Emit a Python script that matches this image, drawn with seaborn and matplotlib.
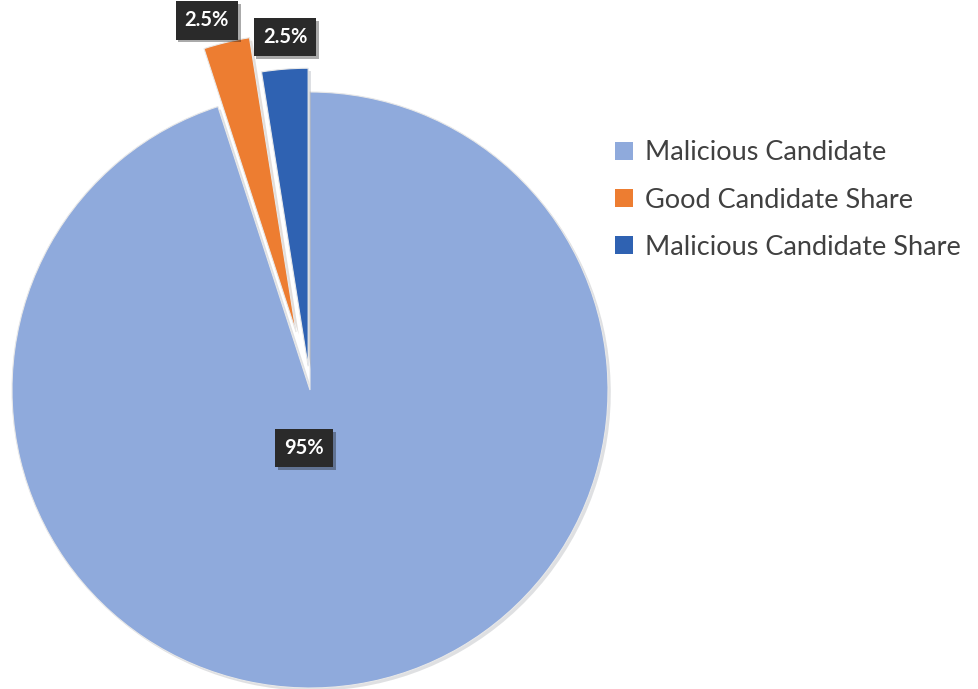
import matplotlib
matplotlib.use("Agg")
import matplotlib.pyplot as plt
import matplotlib.patheffects as pe
import seaborn as sns

# data
labels = ["Malicious Candidate", "Good Candidate Share", "Malicious Candidate Share"]
shares = [95, 2.5, 2.5]
pct_text = ["95%", "2.5%", "2.5%"]
colors = ["#8FAADC", "#ED7D31", "#2F62B2"]
explode = [0, 0.2, 0.08]

sns.set_theme(style="white")
plt.rcParams["font.family"] = ["Lato", "DejaVu Sans"]

fig = plt.figure(figsize=(9.79, 6.89), dpi=100)
ax = fig.add_axes([12 / 979, 1 / 689, 596 / 979, 596 / 689])

wedges, _ = ax.pie(shares, colors=colors, explode=explode, startangle=90,
                   counterclock=False,
                   wedgeprops=dict(edgecolor="#e8e8e8", linewidth=0.8))
for w in wedges:
    w.set_clip_on(False)
    w.set_path_effects([pe.SimplePatchShadow(offset=(2, -2), alpha=0.15), pe.Normal()])
ax.set_xlim(-1, 1)
ax.set_ylim(-1, 1)
ax.axis("off")

# data labels (dark boxes)
label_pos = [(-0.02, -0.195), (-0.346, 1.24), (-0.084, 1.185)]
for txt, (x, y) in zip(pct_text, label_pos):
    t = ax.text(x, y, txt, ha="center", va="center", color="white",
                fontsize=14.5, fontweight="bold", clip_on=False,
                bbox=dict(boxstyle="square,pad=0.45", fc="#2a2a2a", ec="none"))
    t.get_bbox_patch().set_path_effects(
        [pe.SimplePatchShadow(offset=(2, -2), alpha=0.35), pe.Normal()])

handles = [plt.Rectangle((0, 0), 1, 1, fc=c, ec="none") for c in colors]
leg = fig.legend(handles, labels, loc="upper left", bbox_to_anchor=(591 / 979, 1 - 116 / 689),
                 frameon=False, fontsize=19.5, handlelength=0.65, handleheight=0.65,
                 handletextpad=0.45, labelspacing=0.82, labelcolor="#404040")

fig.savefig("out.png", dpi=100, facecolor="white")
